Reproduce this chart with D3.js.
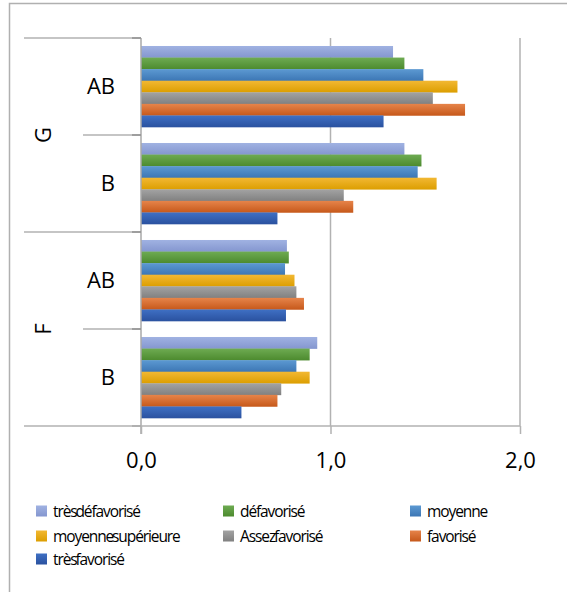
<!DOCTYPE html>
<html>
<head>
<meta charset="utf-8">
<script src="https://cdn.jsdelivr.net/npm/d3@7"></script>
<style>
  html, body { margin: 0; padding: 0; background: #fff; }
  svg { display: block; }
</style>
</head>
<body>
<svg id="chart" width="567" height="592"></svg>
<script>
// ---- data ----
const groups = ["G", "F"];
const subgroups = ["AB", "B"];
const series = ["très défavorisé", "défavorisé", "moyenne", "moyenne supérieure", "Assez favorisé", "favorisé", "très favorisé"];
const valuesG_AB = [1.33, 1.39, 1.49, 1.67, 1.54, 1.71, 1.28];
const valuesG_B  = [1.39, 1.48, 1.46, 1.56, 1.07, 1.12, 0.72];
const valuesF_AB = [0.77, 0.78, 0.76, 0.81, 0.82, 0.86, 0.765];
const valuesF_B  = [0.93, 0.89, 0.82, 0.89, 0.74, 0.72, 0.53];
const tickValues = [0, 1, 2];
const tickLabels = ["0,0", "1,0", "2,0"];

const colorsTop = ["#a0b2e2", "#6eab52", "#5c99d2", "#f2b833", "#a3a3a3", "#e6844a", "#3f70c4"];
const colorsBot = ["#8496cf", "#4c8a2e", "#3c76b4", "#dc9e00", "#808080", "#c6581a", "#2a519f"];

const rows = [
  { g: "G", s: "AB", v: valuesG_AB },
  { g: "G", s: "B",  v: valuesG_B },
  { g: "F", s: "AB", v: valuesF_AB },
  { g: "F", s: "B",  v: valuesF_B }
];

const svg = d3.select("#chart");
const FONT = "'Open Sans', 'DejaVu Sans', sans-serif";
const grid = "#b2b2b2";

// outer frame
svg.append("rect").attr("x", 9.5).attr("y", 3.5).attr("width", 620).attr("height", 620)
  .attr("fill", "none").attr("stroke", "#b0b0b0").attr("stroke-width", 1.5);

// gradients
const defs = svg.append("defs");
series.forEach((s, i) => {
  const lg = defs.append("linearGradient").attr("id", "grad" + i)
    .attr("x1", 0).attr("y1", 0).attr("x2", 0).attr("y2", 1);
  lg.append("stop").attr("offset", "0%").attr("stop-color", colorsTop[i]);
  lg.append("stop").attr("offset", "100%").attr("stop-color", colorsBot[i]);
});

// scales
const x = d3.scaleLinear().domain([0, 2]).range([141, 520]);
const yRow = d3.scaleBand().domain(rows.map(r => r.g + "|" + r.s)).range([38, 426]).padding(0);
const ySer = d3.scaleBand().domain(series).range([0, yRow.bandwidth()]).paddingInner(0).paddingOuter(0.69);
const yGroup = d3.scaleBand().domain(groups).range([38, 426]).padding(0);

const x0 = x(0), xLeftOuter = 24, xLeftInner = 83;
const yTop = yRow.range()[0], yBot = yRow.range()[1];

// gridlines
svg.append("g").selectAll("line").data(tickValues.filter(d => d !== 0)).join("line")
  .attr("x1", d => x(d)).attr("x2", d => x(d))
  .attr("y1", yTop).attr("y2", yBot)
  .attr("stroke", grid).attr("stroke-width", 1.5);

// bars
const rowG = svg.append("g").selectAll("g").data(rows).join("g")
  .attr("transform", r => `translate(0,${yRow(r.g + "|" + r.s)})`);
rowG.selectAll("rect").data(r => r.v.map((v, i) => ({ v, i }))).join("rect")
  .attr("x", x0)
  .attr("y", d => ySer(series[d.i]))
  .attr("width", d => x(d.v) - x0)
  .attr("height", ySer.bandwidth() + 0.3)
  .attr("fill", d => `url(#grad${d.i})`);

// category axis (vertical at 0)
svg.append("line").attr("x1", x0).attr("x2", x0).attr("y1", yTop).attr("y2", yBot + 8)
  .attr("stroke", "#a8a8a8").attr("stroke-width", 1.5);

// category separators
const seps = [];
rows.forEach((r, i) => {
  const y0 = yRow(r.g + "|" + r.s);
  const isGroupStart = r.s === subgroups[0];
  seps.push({ y: y0, x1: isGroupStart ? xLeftOuter : xLeftInner });
});
svg.append("g").selectAll("line").data(seps).join("line")
  .attr("x1", d => d.x1).attr("x2", x0)
  .attr("y1", d => d.y).attr("y2", d => d.y)
  .attr("stroke", grid).attr("stroke-width", 1.5);
// small darker ticks on the category axis
svg.append("g").selectAll("line").data(seps.concat([{ y: yBot }])).join("line")
  .attr("x1", x0 - 9).attr("x2", x0)
  .attr("y1", d => d.y).attr("y2", d => d.y)
  .attr("stroke", "#909090").attr("stroke-width", 1.5);

// value axis
svg.append("line").attr("x1", xLeftOuter).attr("x2", x(2)).attr("y1", yBot).attr("y2", yBot)
  .attr("stroke", grid).attr("stroke-width", 1.5);
const xAxis = d3.axisBottom(x).tickValues(tickValues).tickSize(8).tickPadding(18)
  .tickFormat((d, i) => tickLabels[i]);
const ax = svg.append("g").attr("transform", `translate(0,${yBot})`).call(xAxis);
ax.select(".domain").remove();
ax.selectAll(".tick line").attr("stroke", grid).attr("stroke-width", 1.5);
ax.selectAll(".tick text").attr("font-family", FONT).attr("font-size", 22).attr("fill", "#000");

// inner category labels
svg.append("g").selectAll("text").data(rows).join("text")
  .attr("x", 115)
  .attr("y", r => yRow(r.g + "|" + r.s) + yRow.bandwidth() / 2)
  .attr("dy", "0.36em")
  .attr("text-anchor", "end")
  .attr("font-family", FONT).attr("font-size", 22).attr("fill", "#000")
  .text(r => r.s);

// outer group labels (rotated)
svg.append("g").selectAll("text").data(groups).join("text")
  .attr("transform", g => `translate(43,${yGroup(g) + yGroup.bandwidth() / 2}) rotate(-90)`)
  .attr("dy", "0.36em")
  .attr("text-anchor", "middle")
  .attr("font-family", FONT).attr("font-size", 22).attr("fill", "#000")
  .text(g => g);

// legend
const legX = [36, 223, 410];
const legY = [511, 536, 559];
const leg = svg.append("g").selectAll("g").data(series).join("g")
  .attr("transform", (s, i) => `translate(${legX[i % 3]},${legY[Math.floor(i / 3)]})`);
leg.append("rect").attr("x", 0).attr("y", -5.5).attr("width", 11).attr("height", 11)
  .attr("fill", (s, i) => `url(#grad${i})`);
leg.append("text").attr("x", 17).attr("y", 0).attr("dy", "0.36em")
  .attr("font-family", FONT).attr("font-size", 15.5)
  .attr("letter-spacing", "-1.1px").attr("word-spacing", "-4px")
  .attr("fill", "#000")
  .text(s => s);
</script>
</body>
</html>
